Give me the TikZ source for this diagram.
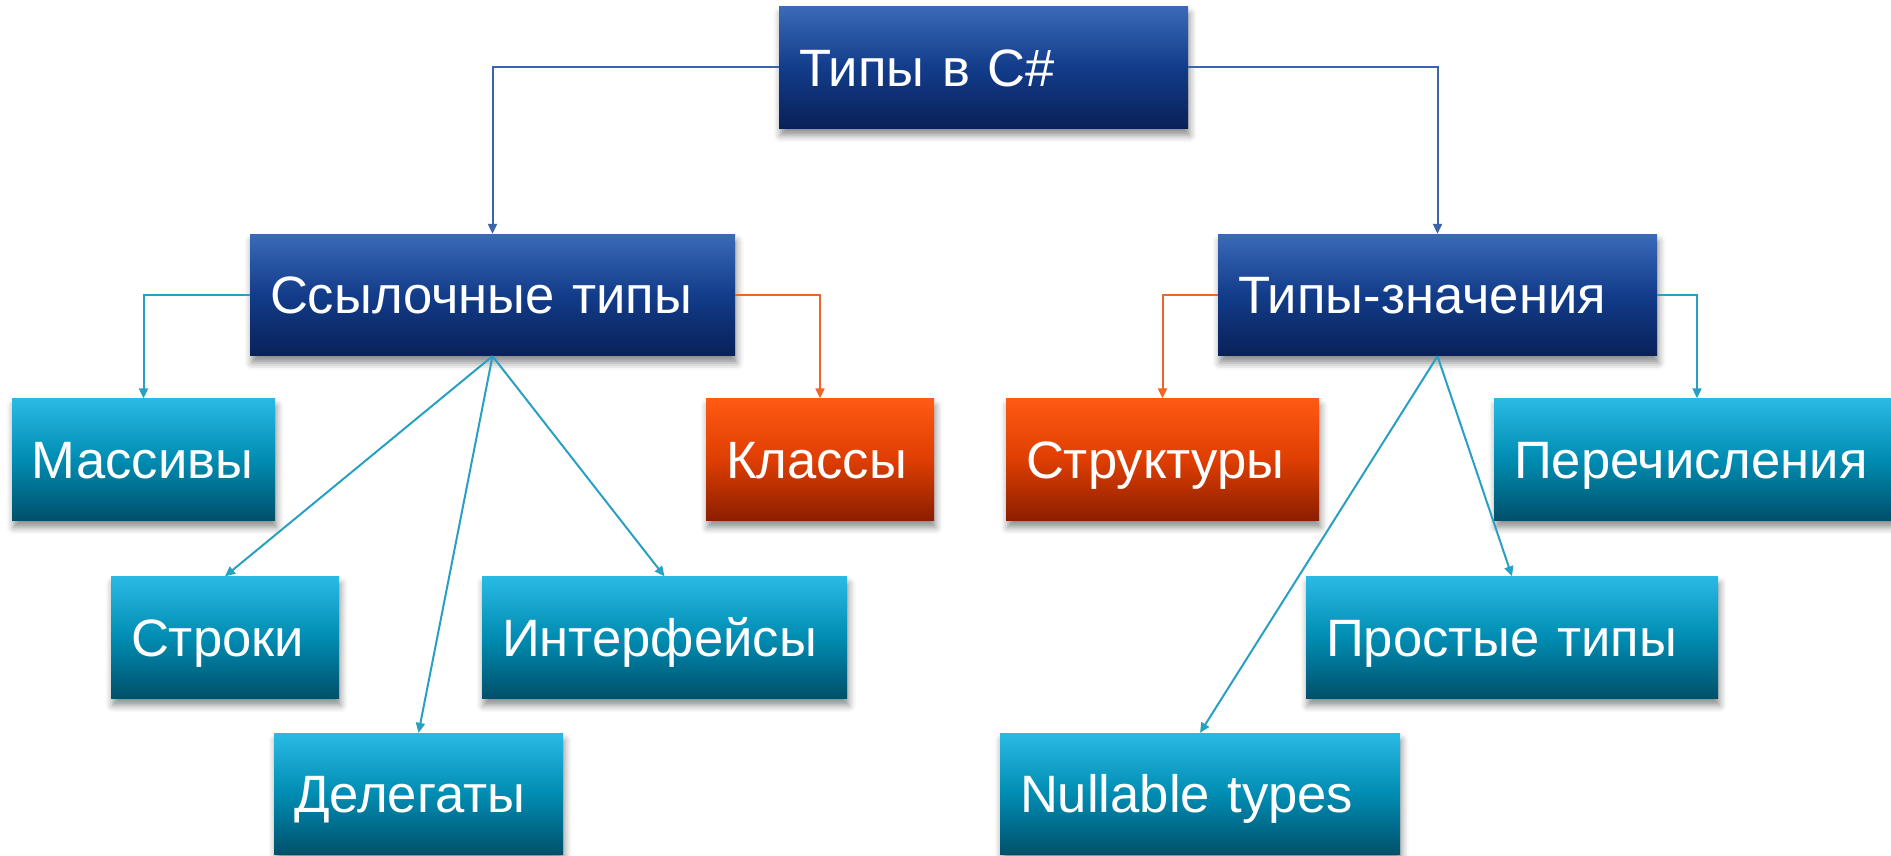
\documentclass[tikz,border=0pt]{standalone}
\usepackage{fontspec}
\setmainfont{Liberation Sans}
\usetikzlibrary{arrows.meta,shadows.blur}

\definecolor{navyTop}{RGB}{58,106,184}
\definecolor{navyMid}{RGB}{18,60,138}
\definecolor{navyBot}{RGB}{9,33,88}
\definecolor{cyanTop}{RGB}{41,186,228}
\definecolor{cyanMid}{RGB}{0,140,178}
\definecolor{cyanBot}{RGB}{0,80,106}
\definecolor{orTop}{RGB}{255,90,20}
\definecolor{orMid}{RGB}{222,62,2}
\definecolor{orBot}{RGB}{140,30,0}
\definecolor{lnBlue}{RGB}{60,100,170}
\definecolor{lnCyan}{RGB}{40,160,196}
\definecolor{lnOrange}{RGB}{240,100,40}

\tikzset{
  tbox/.style 2 args={
    rectangle, minimum width=#1, text width=#2, minimum height=60.75pt,
    inner xsep=10pt, inner ysep=0pt, align=left,
    text height=18.85pt, text depth=0pt,
    font=\fontsize{26.3pt}{31pt}\selectfont, text=white,
    blur shadow={shadow xshift=0.8pt, shadow yshift=-3.5pt,
                 shadow blur radius=3.5pt, shadow opacity=45}},
  navy/.style={top color=navyTop, bottom color=navyBot, middle color=navyMid},
  teal/.style={top color=cyanTop, bottom color=cyanBot, middle color=cyanMid},
  flame/.style={top color=orTop, bottom color=orBot, middle color=orMid},
  link/.style={line width=1pt, -{Triangle[length=5pt,width=4.5pt]}},
}

\begin{document}
\begin{tikzpicture}[x=0.5pt,y=-0.5pt]
\useasboundingbox (0,0) rectangle (1891,856);

% levels: root, two kinds, leaves
\node[tbox={204.5pt}{184.5pt}, navy] (root)   at (983.5,67.5) {\mbox{Типы в C\#}};
\node[tbox={242.5pt}{222.5pt}, navy] (ref)    at (492.5,295)  {\mbox{Ссылочные типы}};
\node[tbox={219.5pt}{199.5pt}, navy] (val)    at (1437.5,295) {\mbox{Типы-значения}};

\node[tbox={131.5pt}{111.5pt}, teal]  (arr)    at (143.5,459.5)  {\mbox{Массивы}};
\node[tbox={114pt}{94pt},      flame] (cls)    at (820,459.5)    {\mbox{Классы}};
\node[tbox={156.5pt}{136.5pt}, flame] (struct) at (1162.5,459.5) {\mbox{Структуры}};
\node[tbox={203pt}{183pt},     teal]  (enum)   at (1697,459.5)   {\mbox{Перечисления}};

\node[tbox={114pt}{94pt},      teal] (strs)   at (225,637.5)   {\mbox{Строки}};
\node[tbox={182.5pt}{162.5pt}, teal] (iface)  at (664.5,637.5) {\mbox{Интерфейсы}};
\node[tbox={206pt}{186pt},     teal] (simple) at (1512,637.5)  {\mbox{Простые типы}};

\node[tbox={144.5pt}{124.5pt}, teal] (deleg)  at (418.5,794) {\mbox{Делегаты}};
\node[tbox={200pt}{180pt},     teal] (null)   at (1200,794)  {\mbox{Nullable types}};

% connectors
\draw[link, lnBlue] (root.west) -| (ref.north);
\draw[link, lnBlue] (root.east) -| (val.north);

\draw[link, lnCyan]   (ref.west) -| (arr.north);
\draw[link, lnOrange] (ref.east) -| (cls.north);
\draw[link, lnCyan]   (ref.south) -- (strs.north);
\draw[link, lnCyan]   (ref.south) -- (deleg.north);
\draw[link, lnCyan]   (ref.south) -- (iface.north);

\draw[link, lnOrange] (val.west) -| (struct.north);
\draw[link, lnCyan]   (val.east) -| (enum.north);
\draw[link, lnCyan]   (val.south) -- (null.north);
\draw[link, lnCyan]   (val.south) -- (simple.north);
\end{tikzpicture}
\end{document}
